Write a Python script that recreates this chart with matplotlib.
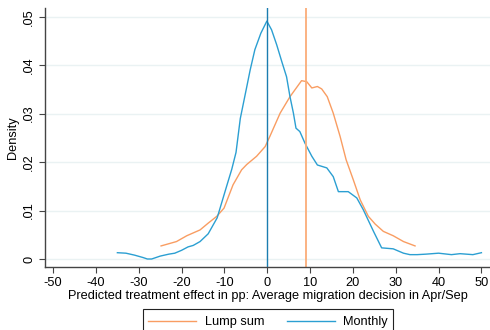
import matplotlib
matplotlib.use("Agg")
import matplotlib.pyplot as plt
from matplotlib.lines import Line2D
from matplotlib.patches import Rectangle

plt.rcParams['font.family'] = ['Liberation Sans', 'DejaVu Sans']

# Monthly (blue) density
monthly_x = [-35, -33, -31, -29, -28, -27, -25, -23, -21.6, -20, -18.5, -17.3, -15.7, -13.8, -11.7, -9.5,
             -8.3, -7.3, -6.3, -4.8, -4, -2.9, -1.5, -0.1, 1.0, 2.2, 3.4, 4.5, 5.3, 6.1, 6.7, 7.6, 8.8,
             10.4, 11.7, 13.9, 15.4, 16.6, 18.9, 20.9, 22.4, 24.8, 26.7, 29.4, 31.8, 33.3, 35, 37,
             40, 43, 45, 48, 50]
monthly_y = [0.0013, 0.0012, 0.0008, 0.0003, 0.0000, 0.0000, 0.0006, 0.0010, 0.0012, 0.0018, 0.0025, 0.0028, 0.0036, 0.0052, 0.0085, 0.0150,
             0.0185, 0.0220, 0.0290, 0.0355, 0.0390, 0.0432, 0.0466, 0.0491, 0.0473, 0.0442, 0.0407, 0.0376, 0.0335, 0.0301, 0.0270, 0.0263, 0.0239,
             0.0212, 0.0194, 0.0188, 0.0170, 0.0139, 0.0139, 0.0126, 0.0102, 0.0057, 0.0023, 0.0021, 0.0012, 0.0009, 0.0009, 0.0010,
             0.0012, 0.0009, 0.0011, 0.0009, 0.0013]

# Lump sum (orange) density
lump_x = [-24.8, -21.2, -18.8, -15.7, -13.8, -11.8, -10.1, -8, -6, -4.8, -2.5, -0.5, 0.6, 3, 5.3, 8, 9.2,
          10.4, 11.7, 12.7, 14, 15.4, 17, 18.4, 20.1, 21.7, 23.6, 25.2, 27.1, 29.4, 31.8, 34.5]
lump_y = [0.0027, 0.0036, 0.0048, 0.0060, 0.0074, 0.0088, 0.0105, 0.0153, 0.0184, 0.0195, 0.0212, 0.0232, 0.0253, 0.0301, 0.0335, 0.0368, 0.0366,
          0.0353, 0.0356, 0.0351, 0.0335, 0.0301, 0.0253, 0.0205, 0.0163, 0.0122, 0.0088, 0.0072, 0.0057, 0.0048, 0.0036, 0.0027]

mean_lump = 9
mean_monthly = 0

xticks = list(range(-50, 51, 10))
yticks = [0, 0.01, 0.02, 0.03, 0.04, 0.05]
ytick_labels = ['0', '.01', '.02', '.03', '.04', '.05']

c_orange = '#f99d62'
c_blue = '#2b9fd2'

fig = plt.figure(figsize=(4.9, 3.3), dpi=100)
ax = fig.add_axes([45/490, (330-267)/330, (490-45)/490, (267-8)/330])

for yv in yticks:
    ax.axhline(yv, color='#eaf2f3', lw=1.0, zorder=0)

ax.plot(lump_x, lump_y, color=c_orange, lw=1.0)
ax.plot(monthly_x, monthly_y, color=c_blue, lw=1.0)
ax.axvline(mean_lump, color='#fbad78', lw=1.3)
ax.axvline(mean_monthly, color='#1b7db0', lw=1.0)

ax.set_xlim(-51.9, 52.0)
ax.set_ylim(-0.00165, 0.0518)
ax.set_xticks(xticks)
ax.set_xticklabels([str(t) for t in xticks])
ax.set_yticks(yticks)
ax.set_yticklabels(ytick_labels, rotation=90, va='center')
ax.tick_params(labelsize=9.2, length=4, width=0.8, color='#444444', pad=3)
for s in ['top', 'right']:
    ax.spines[s].set_visible(False)
for s in ['left', 'bottom']:
    ax.spines[s].set_color('#444444')
    ax.spines[s].set_linewidth(1.0)

ax.set_xlabel('Predicted treatment effect in pp: Average migration decision in Apr/Sep', fontsize=9.2, labelpad=1)
ax.set_ylabel('Density', fontsize=9.2, labelpad=3)

handles = [Line2D([0], [0], color=c_orange, lw=1.0), Line2D([0], [0], color=c_blue, lw=1.0)]
leg = fig.legend(handles, ['Lump sum', 'Monthly'], loc='upper center', bbox_to_anchor=(268/490, (330-312)/330),
                 ncol=2, fontsize=9.2, frameon=False,
                 handlelength=3.8, handletextpad=0.65, columnspacing=1.75, borderpad=0.35,
                 borderaxespad=0)
fig.patches.append(Rectangle((143/490, -0.05), (393-143)/490, 0.05 + (330-309)/330,
                             transform=fig.transFigure, fill=False, edgecolor='#222222', lw=0.8))

fig.savefig('out.png', dpi=100)
